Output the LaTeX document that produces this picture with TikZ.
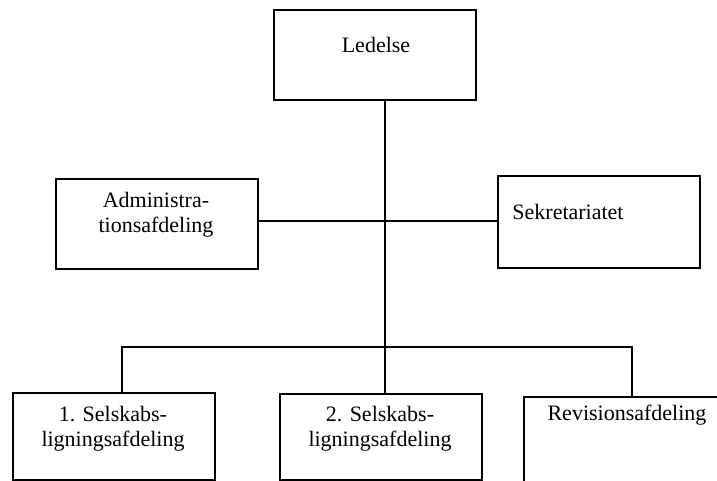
\documentclass[tikz,border=0pt]{standalone}
\usepackage{fontspec}
\setmainfont{Liberation Serif}
\begin{document}
\begin{tikzpicture}[x=1pt,y=-1pt,
  orgbox/.style={draw,line width=1.8pt,rectangle,inner sep=0pt,minimum width=202pt},
  lbl/.style={font=\fontsize{22}{25}\selectfont,align=center,inner sep=0pt},
  conn/.style={line width=1.8pt}]
\useasboundingbox (0,0) rectangle (717,480);
\clip (0,0) rectangle (717,480);
% boxes (anchored at north west)
\node[orgbox,minimum height=90pt,anchor=north west] (led) at (273,9) {};
\node[orgbox,minimum height=90pt,anchor=north west] (adm) at (55,178) {};
\node[orgbox,minimum height=92pt,anchor=north west] (sek) at (497,175) {};
\node[orgbox,minimum height=87pt,anchor=north west] (s1) at (12,392) {};
\node[orgbox,minimum height=86pt,anchor=north west] (s2) at (279,393) {};
\node[orgbox,minimum height=92pt,anchor=north west] (rev) at (523,396) {};
% texts
\node[lbl] (tled) at (376,45) {Ledelse};
\node[lbl] (tadm) at (156,215) {Administra-\\tionsafdeling};
\node[lbl] (tsek) at (568,212) {Sekretariatet};
\node[lbl] (ts1) at (113,429) {1. Selskabs-\\ligningsafdeling};
\node[lbl] (ts2) at (380,429) {2. Selskabs-\\ligningsafdeling};
\node[lbl] (trev) at (627,415) {Revisionsafdeling};
% connector points
\coordinate (j1) at (385,221);
\coordinate (j2) at (385,347);
\coordinate (b1) at (122,347);
\coordinate (b3) at (632,347);
% connectors
\draw[conn] (led.south -| j1) -- (j2);
\draw[conn] (adm.east |- j1) -- (sek.west |- j1);
\draw[conn] (s1.north -| b1) -- (b1) -- (b3) -- (rev.north -| b3);
\draw[conn] (j2) -- (s2.north -| j2);
\end{tikzpicture}
\end{document}
